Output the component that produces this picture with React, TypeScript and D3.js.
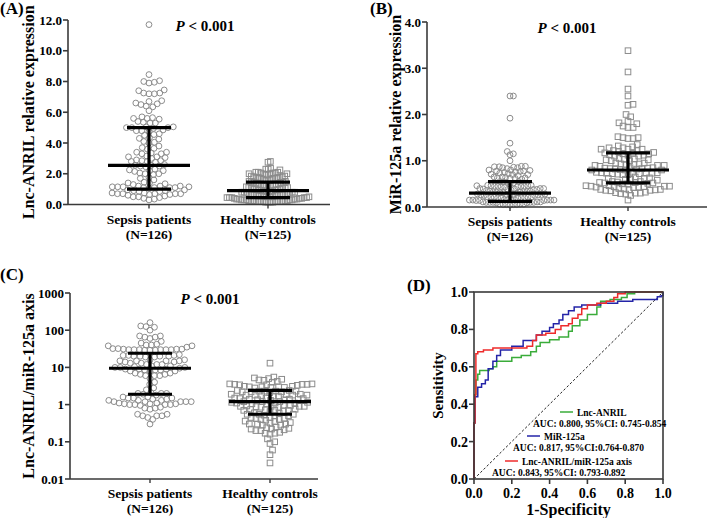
import React from "react";
import * as d3 from "d3";

const FONT = '"Liberation Serif", "Times New Roman", serif';

// ---------- Data ----------
const categories = ["Sepsis patients", "Healthy controls"];
const groupN = ["(N=126)", "(N=125)"];

const anrilSepsis = [
  11.7, 8.45, 8.05, 7.95, 7.9, 8.0, 7.45, 7.4, 7.25, 7.2, 7.2, 7.25,
  6.75, 6.7, 6.6, 6.55, 6.5, 6.35, 6.4, 6.1, 5.7, 5.65, 5.6, 5.55, 5.6,
  5.35, 5.3, 5.3, 5.4, 5.05, 5.0, 5.0, 4.95, 5.0, 5.05, 4.85, 4.8, 4.8, 4.75,
  4.6, 4.55, 4.5, 4.3, 4.25, 4.35, 4.1, 4.05, 4.0, 3.8, 3.7, 3.6, 3.65,
  3.4, 3.35, 3.3, 3.4, 3.3, 3.1, 3.15, 3.05, 3.0, 3.1,
  2.85, 2.8, 2.75, 2.9, 2.8, 2.85, 2.55, 2.5, 2.6, 2.45, 2.5, 2.55,
  2.25, 2.2, 2.3, 2.2, 2.15, 2.0, 2.05, 1.95, 2.0, 1.75, 1.7, 1.6,
  1.45, 1.4, 1.35, 1.3, 1.4,
  1.2, 1.15, 1.1, 1.1, 1.15, 1.2, 1.05, 1.1, 1.2, 1.15, 1.1, 1.15,
  0.95, 0.9, 0.85, 0.9, 0.95, 0.85,
  0.75, 0.7, 0.7, 0.65, 0.7, 0.75, 0.7, 0.65, 0.7,
  0.6, 0.55, 0.5, 0.5, 0.45, 0.4, 0.35, 0.3,
];
const anrilHealthy = [
  2.8, 2.75, 2.35, 2.3, 2.25, 2.3, 2.1, 2.05, 2.0, 2.1, 2.0, 1.95, 2.05, 2.0, 2.1, 1.95, 2.0, 2.05,
  1.85, 1.8, 1.75, 1.7, 1.8, 1.75, 1.7, 1.85, 1.8, 1.75, 1.7, 1.65,
  1.6, 1.55, 1.5, 1.45, 1.5, 1.55, 1.4, 1.45, 1.5, 1.4,
  1.35, 1.3, 1.25, 1.2, 1.3, 1.25, 1.2, 1.15, 1.3, 1.2,
  1.1, 1.05, 1.0, 0.95, 1.0, 1.05, 1.1, 0.95, 1.0, 0.9, 1.05, 0.95,
  0.9, 0.85, 0.8, 0.85, 0.8, 0.75, 0.85, 0.8, 0.75, 0.9, 0.8, 0.7,
  0.7, 0.65, 0.6, 0.65, 0.6, 0.55, 0.65, 0.6, 0.7, 0.55, 0.6, 0.65,
  0.5, 0.45, 0.5, 0.45, 0.4, 0.5, 0.45, 0.4, 0.5, 0.45, 0.4, 0.45, 0.5,
  0.35, 0.3, 0.35, 0.3, 0.25, 0.35, 0.3, 0.25, 0.3, 0.35, 0.3, 0.25, 0.2,
  0.2, 0.15, 0.2, 0.25, 0.2, 0.15, 0.2, 0.25, 0.2, 0.15, 0.2, 0.2, 0.15,
];
const anrilStats = [[1.0, 2.55, 5.0], [0.45, 0.9, 1.45]]; // [q1, median, q3]

const mirSepsis = [
  2.4, 2.4, 1.92, 1.38, 1.2, 1.15, 1.13, 1.0,
  0.88, 0.87, 0.86, 0.85, 0.83, 0.85, 0.87, 0.88,
  0.8, 0.78, 0.75, 0.77, 0.79, 0.8, 0.76, 0.78,
  0.72, 0.7, 0.68, 0.7, 0.71, 0.73,
  0.65, 0.64, 0.63, 0.62, 0.6, 0.63, 0.65, 0.62,
  0.55, 0.52, 0.5, 0.53, 0.54, 0.55,
  0.47, 0.46, 0.45, 0.44, 0.45, 0.46, 0.45, 0.44, 0.43, 0.46, 0.47, 0.45,
  0.4, 0.39, 0.38, 0.4, 0.37, 0.39, 0.38, 0.4, 0.36, 0.38,
  0.34, 0.33, 0.32, 0.31, 0.33, 0.34, 0.32, 0.31, 0.3, 0.33,
  0.28, 0.27, 0.26, 0.25, 0.27, 0.28, 0.26, 0.25, 0.27, 0.26,
  0.22, 0.21, 0.2, 0.19, 0.21, 0.22, 0.2, 0.19, 0.21, 0.2,
  0.16, 0.15, 0.15, 0.14, 0.16, 0.15, 0.14, 0.15, 0.16, 0.15, 0.14, 0.15,
  0.1, 0.11, 0.1, 0.09, 0.1, 0.11, 0.1, 0.09, 0.1, 0.11,
  0.06, 0.05, 0.06, 0.05, 0.04, 0.05, 0.06, 0.05,
];
const mirHealthy = [
  3.38, 2.92, 2.55, 2.4, 2.2, 2.22, 2.0, 1.95, 1.85, 1.82, 1.8, 1.75, 1.72, 1.72,
  1.5, 1.5, 1.48, 1.48, 1.52, 1.35, 1.32, 1.3, 1.28, 1.25, 1.25, 1.22, 1.2, 1.22, 1.25, 1.28,
  1.18, 1.15, 1.12, 1.1, 1.15, 1.17, 1.1, 1.13, 1.16, 1.12,
  1.05, 1.02, 1.0, 1.03, 1.0, 1.04, 1.02,
  0.95, 0.93, 0.9, 0.92, 0.88, 0.9, 0.93, 0.95, 0.9, 0.92,
  0.85, 0.82, 0.8, 0.84, 0.83, 0.81, 0.85, 0.8, 0.82, 0.84, 0.83, 0.8,
  0.75, 0.73, 0.72, 0.7, 0.74, 0.71, 0.73, 0.75, 0.7, 0.72, 0.74, 0.73,
  0.65, 0.62, 0.6, 0.63, 0.58, 0.6, 0.62,
  0.55, 0.53, 0.52, 0.5, 0.54, 0.51, 0.55, 0.53, 0.52, 0.5,
  0.46, 0.45, 0.44, 0.43, 0.42, 0.45, 0.44, 0.46, 0.43, 0.45,
  0.4, 0.38, 0.37, 0.36, 0.35, 0.38, 0.39, 0.37, 0.36,
  0.32, 0.3, 0.28, 0.3, 0.31, 0.29, 0.25, 0.15,
];
const mirStats = [[0.12, 0.3, 0.55], [0.52, 0.8, 1.17]];

const axisSepsis = [
  160, 130, 120, 100, 125, 70, 65, 60, 50, 70, 65,
  40, 38, 42, 35, 40, 38, 45,
  32, 31, 30, 30, 29, 30, 31, 30, 29, 30, 31, 32, 30, 29,
  21, 20, 19, 20, 21, 20, 19, 20, 21, 22,
  16, 15, 14, 15, 16, 15, 14, 15,
  13, 12, 12, 11, 13, 12,
  10, 10.5, 9.5, 10, 11, 10,
  9, 8.5, 8, 9, 8, 8.5, 9, 8, 8.5,
  7, 6.5, 6, 6, 7, 6.5, 6,
  5, 4, 3.5, 2.8, 2.5,
  2, 1.9, 2, 1.8, 2.1, 2,
  1.6, 1.5, 1.4, 1.5, 1.6, 1.5, 1.4,
  1.3, 1.2, 1.2, 1.1, 1.3, 1.2, 1.1, 1.2, 1.3, 1.2,
  1.05, 1.0, 1.0, 1.05, 1.0, 0.95, 1.0, 1.05,
  0.8, 0.75, 0.8, 0.85,
  0.55, 0.5, 0.5, 0.45, 0.5, 0.55, 0.4, 0.3,
];
const axisHealthy = [
  13, 5.5, 5, 5.2, 4.8, 4.5, 4.6, 4.2, 4,
  3.6, 3.5, 3.4, 3.5, 3.6, 3.4, 3.5, 3.3,
  3.1, 3, 2.9, 3, 3.1, 2.9, 3, 2.8,
  2.4, 2.3, 2.2, 2.3, 2.4, 2.2, 2.3, 2.1, 2.2, 2.3,
  1.9, 1.8, 1.7, 1.8, 1.9, 1.7, 1.8, 1.75, 1.85, 1.8,
  1.5, 1.4, 1.35, 1.45, 1.4, 1.5, 1.35, 1.4, 1.45, 1.3,
  1.2, 1.1, 1.15, 1.05, 1.1, 1.2, 1.15, 1.1, 1.05, 1.2,
  0.95, 0.9, 0.85, 0.9, 0.95, 0.85, 0.9, 0.88, 0.92, 0.9,
  0.75, 0.7, 0.65, 0.7, 0.72, 0.68, 0.7, 0.74,
  0.6, 0.55, 0.5, 0.55, 0.58, 0.52, 0.55, 0.5,
  0.45, 0.42, 0.4, 0.38, 0.4, 0.43, 0.45,
  0.35, 0.32, 0.3, 0.28, 0.3, 0.33, 0.36, 0.3, 0.28,
  0.25, 0.22, 0.2, 0.22, 0.24, 0.2, 0.21, 0.23,
  0.18, 0.17, 0.16, 0.17,
  0.12, 0.1, 0.09, 0.06, 0.045, 0.027,
];
const axisStats = [[1.9, 9.5, 24], [0.55, 1.2, 2.4]];

const linearTicksA = [0, 2, 4, 6, 8, 10, 12];
const linearTicksB = [0, 1, 2, 3, 4];
const logTicksC = [0.01, 0.1, 1, 10, 100, 1000];
const rocTicks = [0, 0.2, 0.4, 0.6, 0.8, 1.0];

const rocNames = ["Lnc-ANRIL", "MiR-125a", "Lnc-ANRIL/miR-125a axis"];
const rocAUC = [
  "AUC: 0.800, 95%CI: 0.745-0.854",
  "AUC: 0.817, 95%CI:0.764-0.870",
  "AUC: 0.843, 95%CI: 0.793-0.892",
];
const rocColors = ["#3aac3a", "#2424a8", "#ee2b2b"];
const anrilFpr = [0, 0, 0.005, 0.01, 0.02, 0.03, 0.08, 0.1, 0.12, 0.2, 0.25, 0.3, 0.33, 0.35, 0.4, 0.45, 0.5, 0.52, 0.56, 0.6, 0.65, 0.67, 0.72, 0.78, 0.81, 0.85, 1];
const anrilTpr = [0, 0.3, 0.45, 0.53, 0.56, 0.58, 0.59, 0.6, 0.63, 0.65, 0.66, 0.68, 0.71, 0.73, 0.745, 0.76, 0.79, 0.82, 0.85, 0.88, 0.92, 0.95, 0.96, 0.97, 0.99, 1, 1];
const mirFpr = [0, 0, 0.005, 0.02, 0.04, 0.06, 0.075, 0.1, 0.12, 0.14, 0.2, 0.26, 0.31, 0.33, 0.36, 0.4, 0.42, 0.45, 0.47, 0.5, 0.53, 0.57, 0.67, 0.76, 0.84, 0.97, 0.99, 1];
const mirTpr = [0, 0.3, 0.44, 0.49, 0.51, 0.53, 0.59, 0.63, 0.66, 0.69, 0.71, 0.74, 0.74, 0.77, 0.79, 0.81, 0.83, 0.85, 0.88, 0.9, 0.92, 0.93, 0.94, 0.95, 0.96, 0.975, 0.98, 1];
const axisFpr = [0, 0, 0.005, 0.01, 0.01, 0.02, 0.05, 0.1, 0.2, 0.28, 0.31, 0.33, 0.38, 0.43, 0.46, 0.5, 0.52, 0.55, 0.57, 0.6, 0.65, 0.7, 0.74, 0.76, 0.8, 1];
const axisTpr = [0, 0.3, 0.45, 0.5, 0.67, 0.68, 0.69, 0.7, 0.7, 0.71, 0.74, 0.77, 0.78, 0.8, 0.82, 0.83, 0.86, 0.88, 0.91, 0.93, 0.94, 0.95, 0.97, 0.99, 1, 1];

// ---------- Helpers ----------
type Pt = { v: number; y: number; x: number };

function swarm(values: number[], y: (v: number) => number, d: number, maxHalf: number): Pt[] {
  const pts: Pt[] = values.map((v) => ({ v, y: y(v), x: 0 }));
  const order = [...pts].sort((a, b) => b.y - a.y);
  const placed: Pt[] = [];
  for (const p of order) {
    const near = placed.filter((q) => Math.abs(q.y - p.y) < d);
    const cands = [0];
    for (const q of near) {
      const dx = Math.sqrt(d * d - (q.y - p.y) ** 2);
      cands.push(q.x + dx + 0.01, q.x - dx - 0.01);
    }
    cands.sort((a, b) => Math.abs(a) - Math.abs(b));
    for (const c of cands) {
      if (near.every((q) => (q.x - c) ** 2 + (q.y - p.y) ** 2 >= d * d - 0.05)) {
        p.x = c;
        break;
      }
    }
    placed.push(p);
  }
  const m = d3.max(pts, (p) => Math.abs(p.x)) || 1;
  if (m > maxHalf) pts.forEach((p) => (p.x = (p.x * maxHalf) / m));
  return pts;
}

const AXIS = "#3a3a3a";
const MARK = "#8c8c8c";

type PanelProps = {
  label: string;
  labelX: number;
  labelY: number;
  title: string;
  titleX: number;
  x0: number;
  x1: number;
  yTop: number;
  yBot: number;
  centers: number[];
  scale: "linear" | "log";
  domain: [number, number];
  ticks: number[];
  fmt: (v: number) => string;
  data: number[][];
  stats: number[][];
  pX: number;
  pY: number;
  halfW: number[];
};

function DotPanel(p: PanelProps) {
  const y =
    p.scale === "log"
      ? d3.scaleLog().domain(p.domain).range([p.yBot, p.yTop])
      : d3.scaleLinear().domain(p.domain).range([p.yBot, p.yTop]);
  const x = d3.scaleOrdinal<string, number>().domain(categories).range(p.centers);
  const groups = p.data.map((vals, i) => swarm(vals, (v) => y(v) as number, 5.4, p.halfW[i]));
  return (
    <g>
      <text x={p.labelX} y={p.labelY} fontFamily={FONT} fontWeight="bold" fontSize={17}>
        {p.label}
      </text>
      <text
        transform={`translate(${p.titleX},${(p.yTop + p.yBot) / 2}) rotate(-90)`}
        textAnchor="middle"
        fontFamily={FONT}
        fontWeight="bold"
        fontSize={16}
      >
        {p.title}
      </text>
      <text x={p.pX} y={p.pY} textAnchor="middle" fontFamily={FONT} fontWeight="bold" fontSize={15}>
        <tspan fontStyle="italic">P</tspan> {"< 0.001"}
      </text>
      {/* points */}
      {groups.map((g, gi) =>
        g.map((pt, i) => {
          const cx = (x(categories[gi]) as number) + pt.x;
          return gi === 0 ? (
            <circle key={`${gi}-${i}`} cx={cx} cy={pt.y} r={2.9} fill="none" stroke={MARK} strokeWidth={1} />
          ) : (
            <rect key={`${gi}-${i}`} x={cx - 2.8} y={pt.y - 2.8} width={5.6} height={5.6} fill="none" stroke={MARK} strokeWidth={1} />
          );
        })
      )}
      {/* error bars */}
      {p.stats.map((s, gi) => {
        const cx = x(categories[gi]) as number;
        const [q1, med, q3] = s.map((v) => y(v) as number);
        return (
          <g key={gi} stroke="#000" strokeWidth={3.2}>
            <line x1={cx} x2={cx} y1={q1} y2={q3} />
            <line x1={cx - 41} x2={cx + 41} y1={med} y2={med} />
            <line x1={cx - 22} x2={cx + 22} y1={q1} y2={q1} />
            <line x1={cx - 22} x2={cx + 22} y1={q3} y2={q3} />
          </g>
        );
      })}
      {/* axes */}
      <line x1={p.x0} x2={p.x0} y1={p.yTop} y2={p.yBot} stroke={AXIS} strokeWidth={1.6} />
      <line x1={p.x0} x2={p.x1} y1={p.yBot} y2={p.yBot} stroke={AXIS} strokeWidth={1.6} />
      {p.ticks.map((t) => (
        <g key={t}>
          <line x1={p.x0 - 5} x2={p.x0} y1={y(t) as number} y2={y(t) as number} stroke={AXIS} strokeWidth={1.6} />
          <text
            x={p.x0 - 6}
            y={(y(t) as number) + 4.5}
            textAnchor="end"
            fontFamily={FONT}
            fontWeight="bold"
            fontSize={13}
          >
            {p.fmt(t)}
          </text>
        </g>
      ))}
      {categories.map((c, i) => (
        <g key={c}>
          <line x1={x(c) as number} x2={x(c) as number} y1={p.yBot} y2={p.yBot + 4} stroke={AXIS} strokeWidth={1.4} />
          <text x={x(c) as number} y={p.yBot + 19} textAnchor="middle" fontFamily={FONT} fontWeight="bold" fontSize={13.5}>
            {c}
          </text>
          <text x={x(c) as number} y={p.yBot + 34} textAnchor="middle" fontFamily={FONT} fontWeight="bold" fontSize={13.5}>
            {groupN[i]}
          </text>
        </g>
      ))}
    </g>
  );
}

function RocPanel() {
  const x = d3.scaleLinear().domain([0, 1]).range([474, 663]);
  const y = d3.scaleLinear().domain([0, 1]).range([479, 292]);
  const series = [
    [anrilFpr, anrilTpr],
    [mirFpr, mirTpr],
    [axisFpr, axisTpr],
  ];
  const line = d3
    .line<[number, number]>()
    .x((d) => x(d[0]))
    .y((d) => y(d[1]))
    .curve(d3.curveStepAfter);
  const legendLine = [
    [560, 412],
    [527, 436],
    [505, 461],
  ];
  const aucPos = [
    [533, 427],
    [513, 451],
    [492, 476],
  ];
  return (
    <g>
      <text x={407} y={291} fontFamily={FONT} fontWeight="bold" fontSize={17}>
        (D)
      </text>
      <line x1={x(0)} y1={y(0)} x2={x(1)} y2={y(1)} stroke="#222" strokeWidth={1} strokeDasharray="2.5,2" />
      {series.map(([fx, ty], i) => {
        const pts = fx.map((f, j) => [f, ty[j]] as [number, number]);
        return <path key={i} d={line(pts) || ""} fill="none" stroke={rocColors[i]} strokeWidth={1.5} />;
      })}
      <rect x={x(0)} y={y(1)} width={x(1) - x(0)} height={y(0) - y(1)} fill="none" stroke={AXIS} strokeWidth={1.6} />
      {rocTicks.map((t) => (
        <g key={t}>
          <line x1={x(0) - 5} x2={x(0)} y1={y(t)} y2={y(t)} stroke={AXIS} strokeWidth={1.6} />
          <text x={x(0) - 6} y={y(t) + 5} textAnchor="end" fontFamily={FONT} fontWeight="bold" fontSize={14}>
            {t.toFixed(1)}
          </text>
          <line x1={x(t)} x2={x(t)} y1={y(0)} y2={y(0) + 5} stroke={AXIS} strokeWidth={1.6} />
          <text x={x(t)} y={y(0) + 19} textAnchor="middle" fontFamily={FONT} fontWeight="bold" fontSize={14}>
            {t.toFixed(1)}
          </text>
        </g>
      ))}
      <text x={(x(0) + x(1)) / 2} y={515} textAnchor="middle" fontFamily={FONT} fontWeight="bold" fontSize={16}>
        1-Specificity
      </text>
      <text
        transform={`translate(443,${(y(0) + y(1)) / 2}) rotate(-90)`}
        textAnchor="middle"
        fontFamily={FONT}
        fontWeight="bold"
        fontSize={15}
      >
        Sensitivity
      </text>
      {rocNames.map((n, i) => (
        <g key={n}>
          <line
            x1={legendLine[i][0]}
            x2={legendLine[i][0] + 13}
            y1={legendLine[i][1]}
            y2={legendLine[i][1]}
            stroke={rocColors[i]}
            strokeWidth={1.5}
          />
          <text x={legendLine[i][0] + 17} y={legendLine[i][1] + 3.5} fontFamily={FONT} fontWeight="bold" fontSize={9.5}>
            {n}
          </text>
          <text x={aucPos[i][0]} y={aucPos[i][1]} fontFamily={FONT} fontWeight="bold" fontSize={9.5}>
            {rocAUC[i]}
          </text>
        </g>
      ))}
    </g>
  );
}

export default function App() {
  const f1 = (v: number) => v.toFixed(1);
  const fLog = (v: number) => String(v);
  return (
    <svg width={709} height={518} style={{ position: "absolute", left: 0, top: 0, background: "#fff" }}>
      <DotPanel
        label="(A)"
        labelX={0}
        labelY={14}
        title="Lnc-ANRIL relative expression"
        titleX={34}
        x0={68}
        x1={330}
        yTop={20}
        yBot={204.5}
        centers={[149, 268]}
        scale="linear"
        domain={[0, 12]}
        ticks={linearTicksA}
        fmt={f1}
        data={[anrilSepsis, anrilHealthy]}
        stats={anrilStats}
        pX={205}
        pY={31}
        halfW={[41, 41]}
      />
      <DotPanel
        label="(B)"
        labelX={370}
        labelY={14}
        title="MiR-125a relative expression"
        titleX={401}
        x0={427}
        x1={707}
        yTop={22}
        yBot={207}
        centers={[510, 628]}
        scale="linear"
        domain={[0, 4]}
        ticks={linearTicksB}
        fmt={f1}
        data={[mirSepsis, mirHealthy]}
        stats={mirStats}
        pX={567}
        pY={33}
        halfW={[44, 42]}
      />
      <DotPanel
        label="(C)"
        labelX={0}
        labelY={280}
        title="Lnc-ANRIL/miR-125a axis"
        titleX={34}
        x0={70}
        x1={318}
        yTop={293}
        yBot={479}
        centers={[150, 270]}
        scale="log"
        domain={[0.01, 1000]}
        ticks={logTicksC}
        fmt={fLog}
        data={[axisSepsis, axisHealthy]}
        stats={axisStats}
        pX={210}
        pY={304}
        halfW={[42, 42]}
      />
      <RocPanel />
    </svg>
  );
}
